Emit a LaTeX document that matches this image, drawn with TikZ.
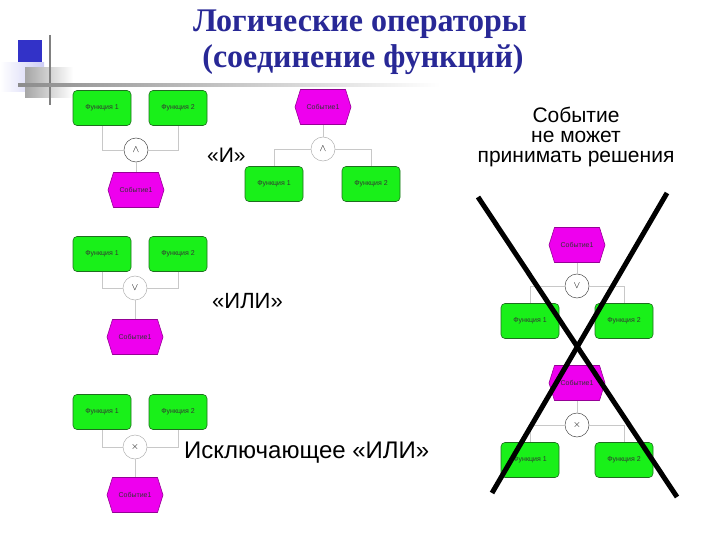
\documentclass[tikz,border=0pt]{standalone}
\usepackage{fontspec}
\setmainfont{Liberation Serif}
\newfontfamily\arialfont{Liberation Sans}
\newfontfamily\titlefont{Liberation Serif}[UprightFont={* Bold}, FakeStretch=0.97]
\usetikzlibrary{shapes.symbols,shapes.geometric}
\definecolor{titleblue}{RGB}{40,40,150}
\definecolor{fgreen}{RGB}{25,240,25}
\definecolor{fgreenborder}{RGB}{30,110,30}
\definecolor{emag}{RGB}{238,0,238}
\definecolor{emagborder}{RGB}{150,0,150}
\definecolor{conn}{RGB}{200,200,200}
\definecolor{decoblue}{RGB}{50,50,200}
\tikzset{
  func/.style={rectangle, rounded corners=4pt, fill=fgreen, draw=fgreenborder, line width=0.6pt,
    minimum width=58pt, minimum height=35pt, inner sep=0pt,
    font=\arialfont\fontsize{7}{8}\selectfont, text=black!80},
  evt/.style={signal, signal to=east and west, signal pointer angle=145, fill=emag, draw=emagborder,
    line width=0.6pt, minimum width=56pt, minimum height=35pt, inner sep=0pt,
    font=\arialfont\fontsize{7}{8}\selectfont, text=black!80},
  oper/.style={circle, draw=black!70, line width=0.5pt, minimum size=24pt, inner sep=0pt, fill=white},
  operfaint/.style={oper, draw=black!30},
  link/.style={draw=conn, line width=0.8pt},
  lbl/.style={font=\arialfont\fontsize{21}{25}\selectfont, anchor=base west, inner sep=0pt},
  rtext/.style={font=\arialfont\fontsize{21}{24}\selectfont, anchor=base, inner sep=0pt},
  ttl/.style={font=\titlefont\fontsize{33}{36}\selectfont, text=titleblue, anchor=base, inner sep=0pt},
  cross/.style={line width=5pt, black},
}
\begin{document}
\begin{tikzpicture}[x=1pt,y=-1pt]
\useasboundingbox (0,0) rectangle (720,540);
% decoration
\fill[decoblue] (18,40) rectangle (42,64);
\shade[left color=white, right color={rgb,255:red,205;green,205;blue,245}] (0,63) rectangle (44,92);
\shade[left color=black!35, right color=white] (25,68) rectangle (73,98);
\draw[black!50, line width=2pt] (50,35) -- (50,105);
\shade[left color=black!45, right color=white] (18,84) rectangle (440,87);
% title
\node[ttl] (t1) at (360,32) {Логические операторы};
\node[ttl] (t2) at (363,68) {(соединение функций)};
% group 1 AND (functions -> event)
\node[func] (a1) at (102,108) {Функция 1};
\node[func] (a2) at (178,108) {Функция 2};
\node[oper] (ac) at (136,150) {$\wedge$};
\node[evt] (ae) at (136,190) {Событие1};
\draw[link] (a1.south) |- (ac.west);
\draw[link] (a2.south) |- (ac.east);
\draw[link] (ac.south) -- (ae.north);
% group 1 AND (event -> functions)
\node[evt] (be) at (323,107) {Событие1};
\node[operfaint] (bc) at (323,149) {$\wedge$};
\node[func] (b1) at (274,184) {Функция 1};
\node[func] (b2) at (371,184) {Функция 2};
\draw[link] (be.south) -- (bc.north);
\draw[link] (bc.west) -| (b1.north);
\draw[link] (bc.east) -| (b2.north);
\node[lbl] (lAnd) at (207,163) {«И»};
% group 2 OR
\node[func] (c1) at (102,254) {Функция 1};
\node[func] (c2) at (178,254) {Функция 2};
\node[operfaint] (cc) at (135,288) {$\vee$};
\node[evt] (ce) at (135,337) {Событие1};
\draw[link] (c1.south) |- (cc.west);
\draw[link] (c2.south) |- (cc.east);
\draw[link] (cc.south) -- (ce.north);
\node[lbl, font=\arialfont\fontsize{22}{26}\selectfont] (lOr) at (212,308) {«ИЛИ»};
% group 3 XOR
\node[func] (d1) at (102,412) {Функция 1};
\node[func] (d2) at (178,412) {Функция 2};
\node[operfaint] (dc) at (135,447) {$\times$};
\node[evt] (de) at (135,495) {Событие1};
\draw[link] (d1.south) |- (dc.west);
\draw[link] (d2.south) |- (dc.east);
\draw[link] (dc.south) -- (de.north);
\node[lbl, font=\arialfont\fontsize{24}{28}\selectfont] (lXor) at (184,458) {Исключающее «ИЛИ»};
% right text
\node[rtext] (rt1) at (576,123) {Событие};
\node[rtext] (rt2) at (576,143) {не может};
\node[rtext] (rt3) at (576,163) {принимать решения};
% right top group
\node[evt] (ee) at (577,245) {Событие1};
\node[oper] (ec) at (577,286) {$\vee$};
\node[func] (e1) at (530,321) {Функция 1};
\node[func] (e2) at (624,321) {Функция 2};
\draw[link] (ee.south) -- (ec.north);
\draw[link] (ec.west) -| (e1.north);
\draw[link] (ec.east) -| (e2.north);
% right bottom group
\node[evt] (fe) at (577,383) {Событие1};
\node[oper] (fc) at (577,425) {$\times$};
\node[func] (f1) at (530,460) {Функция 1};
\node[func] (f2) at (624,460) {Функция 2};
\draw[link] (fe.south) -- (fc.north);
\draw[link] (fc.west) -| (f1.north);
\draw[link] (fc.east) -| (f2.north);
% big cross
\coordinate (xa1) at (478,197);
\coordinate (xa2) at (677,497);
\coordinate (xb1) at (667,193);
\coordinate (xb2) at (492,493);
\draw[cross] (xa1) -- (xa2);
\draw[cross] (xb1) -- (xb2);
\end{tikzpicture}
\end{document}
